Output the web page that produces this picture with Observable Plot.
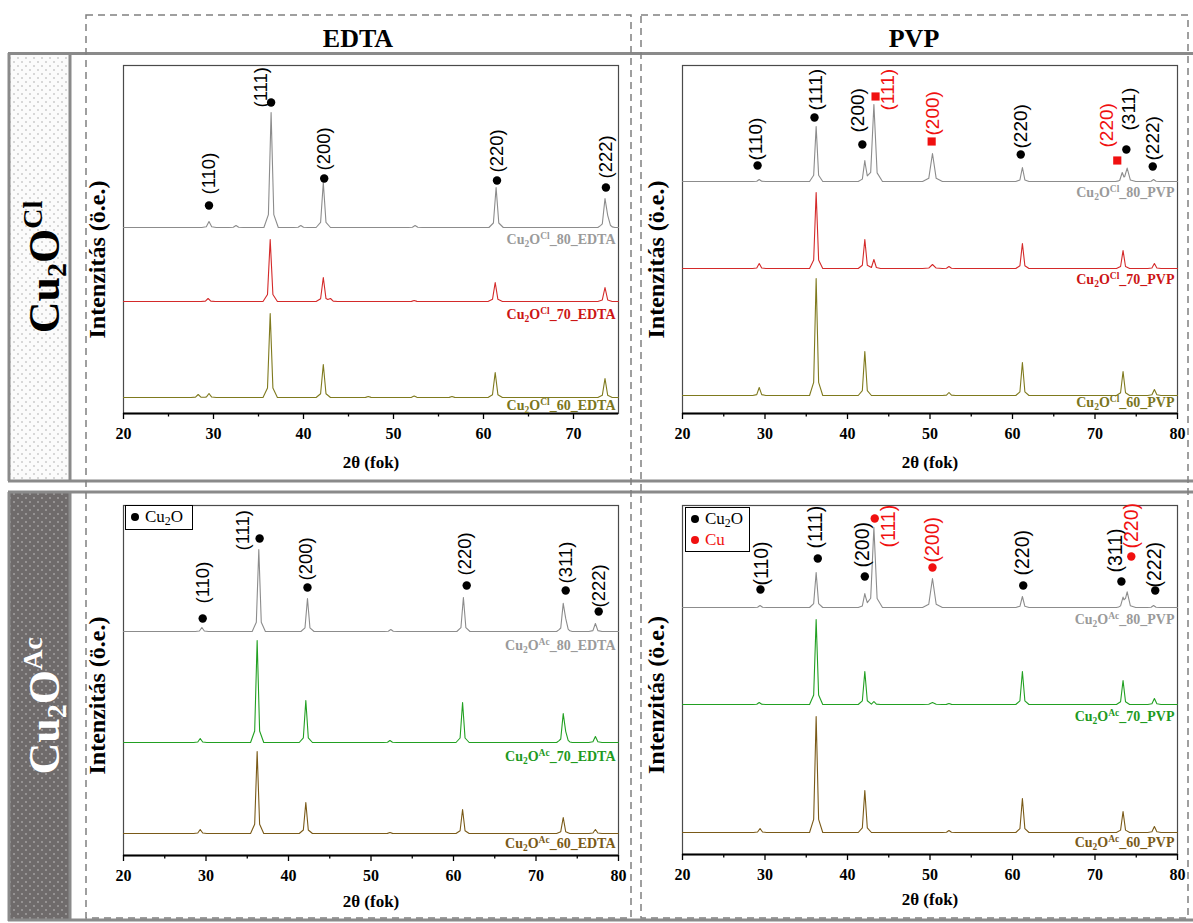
<!DOCTYPE html>
<html><head><meta charset="utf-8">
<script src="https://cdn.jsdelivr.net/npm/d3@7"></script>
<script src="https://cdn.jsdelivr.net/npm/@observablehq/plot@0.6"></script>
<style>
body{margin:0;background:#fff;}
#wrap{position:relative;width:1193px;height:923px;overflow:hidden;font-family:"Liberation Serif","Times New Roman",serif;}
.panel{position:absolute;}
.legend{position:absolute;box-sizing:border-box;border:1px solid #000;background:#fff;font:17px "Liberation Serif",serif;line-height:21px;padding:0 0 0 5px;white-space:nowrap;}
.legend sub{font-size:70%;vertical-align:-3px;line-height:0;}
.ld{display:inline-block;width:8px;height:8px;border-radius:50%;margin-right:6px;vertical-align:1px;}
</style></head><body><div id="wrap">
<svg id="deco" width="1193" height="923" style="position:absolute;left:0;top:0">
<defs>
<pattern id="dotsL" width="8" height="8" patternUnits="userSpaceOnUse"><rect width="8" height="8" fill="#fbfbfb"/><circle cx="2" cy="2" r="0.7" fill="#999"/><circle cx="6" cy="6" r="0.7" fill="#999"/></pattern>
<pattern id="dotsD" width="8" height="8" patternUnits="userSpaceOnUse"><rect width="8" height="8" fill="#6f6b6b"/><circle cx="2" cy="2" r="0.7" fill="#d8d8d8"/><circle cx="6" cy="6" r="0.7" fill="#d8d8d8"/></pattern>
</defs>
<rect x="9" y="54" width="61" height="427" fill="url(#dotsL)"/>
<rect x="9" y="492" width="61" height="428" fill="url(#dotsD)"/>
<g stroke="#8a8a8a" stroke-width="3" fill="none">
<line x1="8" x2="1193" y1="53.5" y2="53.5"/>
<line x1="8" x2="1193" y1="481" y2="481"/>
<line x1="8" x2="1193" y1="492" y2="492"/>
<line x1="8" x2="1193" y1="920" y2="920"/>
<line x1="9" x2="9" y1="53" y2="481"/>
<line x1="70" x2="70" y1="53" y2="481"/>
<line x1="9" x2="9" y1="492" y2="921"/>
<line x1="70" x2="70" y1="492" y2="921"/>
</g>
<g stroke="#808080" stroke-width="1.5" fill="none" stroke-dasharray="7 5">
<rect x="86" y="15" width="545" height="903"/>
<rect x="641" y="15" width="547" height="903"/>
</g>
<text x="358" y="47" text-anchor="middle" font-size="26" font-weight="bold">EDTA</text>
<text x="914" y="47" text-anchor="middle" font-size="26" font-weight="bold">PVP</text>
<text transform="translate(59,267) rotate(-90)" text-anchor="middle" font-size="44" font-weight="bold" fill="#000">Cu<tspan font-size="28" dy="7">2</tspan><tspan dy="-7">O</tspan><tspan font-size="28" dy="-17">Cl</tspan></text>
<text transform="translate(59,706) rotate(-90)" text-anchor="middle" font-size="44" font-weight="bold" fill="#fff">Cu<tspan font-size="28" dy="7">2</tspan><tspan dy="-7">O</tspan><tspan font-size="28" dy="-17">Ac</tspan></text>
</svg>
</div>
<script>
// ---------- data ----------
const xTicks = [20, 30, 40, 50, 60, 70, 80];
const xMinorTicks = [25, 35, 45, 55, 65, 75];
const xTitle = "2θ (fok)";
const yTitle = "Intenzitás (ö.e.)";

// Cu2O-Cl / EDTA  (baselines and [2θ, height, width factor])
const clEdtaNames = ["Cu2OCl_80_EDTA", "Cu2OCl_70_EDTA", "Cu2OCl_60_EDTA"];
const clEdtaBaselines = [186, 112, 16];
const clEdtaPeaks80 = [[29.5,6],[32.5,2],[36.4,115],[39.7,2],[42.2,45],[52.4,2],[61.4,40],[73.5,28],[73.8,9]];
const clEdtaPeaks70 = [[29.4,3],[36.3,62],[42.2,24],[43.0,3],[52.3,1],[61.3,19],[73.5,14]];
const clEdtaPeaks60 = [[28.3,3],[29.5,4],[36.3,84],[42.2,33],[47.2,1],[52.3,1.5],[56.5,1],[61.3,25],[73.5,19]];
// annotations: [dot 2θ, dot height, hkl, phase, label 2θ, label foot height]
const clEdtaAnnots = [
  [29.5,208,"(110)","Cu2O",29.5,219],[36.4,311,"(111)","Cu2O",35.3,306],[42.3,235,"(200)","Cu2O",42.3,243],
  [61.5,233,"(220)","Cu2O",61.5,241],[73.6,226,"(222)","Cu2O",73.6,235]];

// Cu2O-Cl / PVP
const clPvpNames = ["Cu2OCl_80_PVP", "Cu2OCl_70_PVP", "Cu2OCl_60_PVP"];
const clPvpBaselines = [232, 145, 18];
const clPvpPeaks80 = [[29.3,2],[36.2,55],[42.1,21],[43.2,77,1.3],[50.3,28,1.5],[61.2,14],[73.3,8],[73.9,13,1.3],[77.1,2]];
const clPvpPeaks70 = [[29.3,5],[36.2,76],[42.1,29],[43.2,9],[50.3,4,1.5],[52.3,2],[61.2,25],[73.4,18],[77.2,5]];
const clPvpPeaks60 = [[29.3,8],[36.2,117],[42.1,44],[52.3,3],[61.2,33],[73.4,24],[77.2,6]];
const clPvpAnnots = [
  [29.1,248,"(110)","Cu2O",28.85,253],[36.0,296,"(111)","Cu2O",36.2,303],[41.8,269,"(200)","Cu2O",41.3,281],
  [43.4,317,"(111)","Cu",44.85,303],[50.2,272,"(200)","Cu",50.3,278],[61.0,259,"(220)","Cu2O",61.0,265],
  [72.7,253,"(220)","Cu",71.5,266],[73.8,264,"(311)","Cu2O",74.05,283],[77.0,247,"(222)","Cu2O",77.0,253]];

// Cu2O-Ac / EDTA
const acEdtaNames = ["Cu2OAc_80_EDTA", "Cu2OAc_70_EDTA", "Cu2OAc_60_EDTA"];
const acEdtaBaselines = [224, 113, 22];
const acEdtaPeaks80 = [[29.5,4],[36.4,82],[42.3,33],[52.4,2],[61.2,34],[73.3,27],[73.6,10],[77.2,8]];
const acEdtaPeaks70 = [[29.3,4],[36.2,102],[42.1,42],[52.3,2],[61.1,40],[73.3,28],[73.6,8],[77.2,6]];
const acEdtaPeaks60 = [[29.3,4],[36.2,82],[42.1,31],[52.3,1],[61.1,24],[73.3,16],[77.2,4]];
const acEdtaAnnots = [
  [29.6,237,"(110)","Cu2O",29.6,252],[36.5,317,"(111)","Cu2O",34.5,305],[42.3,268,"(200)","Cu2O",42.1,275],
  [61.6,270,"(220)","Cu2O",61.4,280],[73.6,265,"(311)","Cu2O",73.6,272],[77.6,244,"(222)","Cu2O",77.6,248]];

// Cu2O-Ac / PVP
const acPvpNames = ["Cu2OAc_80_PVP", "Cu2OAc_70_PVP", "Cu2OAc_60_PVP"];
const acPvpBaselines = [247, 150, 22];
const acPvpPeaks80 = [[29.4,2],[36.2,35],[42.1,14],[43.2,80,1.3],[50.3,29,1.5],[61.2,11],[73.4,9],[73.9,15,1.3],[77.1,2]];
const acPvpPeaks70 = [[29.3,2],[36.2,85],[42.1,33],[43.2,3],[50.3,2,1.5],[52.3,1],[61.2,33],[73.4,24],[77.2,6]];
const acPvpPeaks60 = [[29.4,4],[36.2,116],[42.1,42],[52.3,2],[61.2,34],[73.4,21],[77.2,6]];
const acPvpAnnots = [
  [29.45,265,"(110)","Cu2O",29.6,269],[36.4,296,"(111)","Cu2O",36.1,306],[42.1,278,"(200)","Cu2O",41.8,287],
  [43.3,336,"(111)","Cu",45.0,307],[50.3,287,"(200)","Cu",50.3,292],[61.3,269,"(220)","Cu2O",61.2,279],
  [73.2,273,"(311)","Cu2O",72.5,282],[74.4,298,"(220)","Cu",74.5,306],[77.3,264,"(222)","Cu2O",77.3,267]];

// ---------- drawing ----------
const NS = "http://www.w3.org/2000/svg";
function curve(base, peaks, xmin, xmax) {
  const xs = new Set([xmin, xmax]);
  for (const [c, h, f = 1] of peaks) for (const d of [-0.8, -0.3, 0, 0.3, 0.8]) xs.add(+(c + d * f).toFixed(3));
  return [...xs].filter(x => x >= xmin && x <= xmax).sort((a, b) => a - b).map(x => ({
    x, y: base + d3.sum(peaks, ([c, h, f = 1]) =>
      h * (0.82 * Math.max(0, 1 - Math.abs(x - c) / (0.3 * f)) + 0.18 * Math.max(0, 1 - Math.abs(x - c) / (0.8 * f))))
  }));
}
function formatFormula(svg) {
  svg.querySelectorAll("text").forEach(t => {
    if (t.children.length) return;
    const m = t.textContent.match(/^Cu2O(Cl|Ac)(_.*)$/);
    if (!m) return;
    t.textContent = "";
    const add = (s, a = {}) => { const ts = document.createElementNS(NS, "tspan"); ts.textContent = s; for (const k in a) ts.setAttribute(k, a[k]); t.appendChild(ts); };
    add("Cu"); add("2", {"font-size": "9.5", dy: 3}); add("O", {dy: -3}); add(m[1], {"font-size": "9.5", dy: -5}); add(m[2], {dy: 5});
  });
}
function panel(cfg) {
  const {left, top, width, height, mt, mr, mb, ml, xMax, yMax, names, baselines, peaks, colors, labelColors, labelDy, annots, cuSymbol, fs, titleDy, yTitleDy} = cfg;
  const lines = peaks.map((p, i) => Plot.line(curve(baselines[i], p, 20, xMax), {x: "x", y: "y", stroke: colors[i], strokeWidth: 1.1}));
  const sampleLabels = names.map((n, i) => Plot.text([n], {x: xMax, y: baselines[i], fill: labelColors[i], textAnchor: "end", dx: -3, dy: labelDy[i], fontSize: 14}));
  const cu2o = annots.filter(a => a[3] === "Cu2O"), cu = annots.filter(a => a[3] === "Cu");
  const svg = Plot.plot({
    width, height, marginTop: mt, marginRight: mr, marginBottom: mb, marginLeft: ml,
    x: {domain: [20, xMax]},
    y: {domain: [0, yMax], axis: null},
    style: {background: "transparent", fontFamily: "'Liberation Serif', 'Times New Roman', serif", fontWeight: "bold", fontSize: "16px", color: "#000", overflow: "visible"},
    marks: [
      Plot.frame({stroke: "#4a4a4a", strokeWidth: 1.2}),
      ...lines,
      Plot.ruleY([0], {stroke: "#000", strokeWidth: 1.8}),
      Plot.axisX({ticks: xTicks.filter(t => t <= xMax), tickSize: 6, tickPadding: 8, label: null, strokeWidth: 1.3}),
      Plot.axisX({ticks: xMinorTicks.filter(t => t < xMax), tickSize: 3.5, tickFormat: () => "", label: null, strokeWidth: 1.3}),
      Plot.text([xTitle], {frameAnchor: "bottom", dy: titleDy, fontSize: 17}),
      Plot.text([yTitle], {frameAnchor: "left", textAnchor: "middle", rotate: -90, dx: -26, dy: yTitleDy, fontSize: 24}),
      Plot.dot(cu2o, {x: d => d[0], y: d => d[1], r: 4.2, fill: "#000", stroke: "none"}),
      Plot.dot(cu, {x: d => d[0], y: d => d[1], r: cuSymbol === "square" ? 4.6 : 4.2, symbol: cuSymbol, fill: "#f01010", stroke: "none"}),
      Plot.text(annots, {x: d => d[4], y: d => d[5], text: d => d[2], rotate: -90, textAnchor: "start",
        fill: d => d[3] === "Cu" ? "#f01010" : "#000", fontFamily: "'Liberation Sans', Arial, sans-serif", fontWeight: "normal", fontSize: fs}),
      ...sampleLabels
    ]
  });
  formatFormula(svg);
  const div = document.createElement("div");
  div.className = "panel";
  div.style.left = left + "px"; div.style.top = top + "px";
  div.appendChild(svg);
  document.getElementById("wrap").appendChild(div);
}
const grayRed = ["#8c8c8c", "#d42a2a", "#7f7a1e"], grayRedL = ["#9a9a9a", "#cc1515", "#7a7520"];
const grayGreen = ["#8c8c8c", "#22a022", "#7a5a18"], grayGreenL = ["#9a9a9a", "#1e9a1e", "#7a5a18"];
panel({left: 86, top: 55, width: 545, height: 425, mt: 10, mr: 13, mb: 67, ml: 37, xMax: 75, yMax: 348,
  names: clEdtaNames, baselines: clEdtaBaselines, peaks: [clEdtaPeaks80, clEdtaPeaks70, clEdtaPeaks60],
  colors: grayRed, labelColors: grayRedL, labelDy: [12, 13, 8], annots: clEdtaAnnots, cuSymbol: "square", fs: 18.5, titleDy: 54, yTitleDy: 20});
panel({left: 641, top: 55, width: 547, height: 425, mt: 10, mr: 11, mb: 67, ml: 41, xMax: 80, yMax: 348,
  names: clPvpNames, baselines: clPvpBaselines, peaks: [clPvpPeaks80, clPvpPeaks70, clPvpPeaks60],
  colors: grayRed, labelColors: grayRedL, labelDy: [11, 11, 7], annots: clPvpAnnots, cuSymbol: "square", fs: 19, titleDy: 54, yTitleDy: 20});
panel({left: 86, top: 495, width: 545, height: 423, mt: 10, mr: 13, mb: 63, ml: 37, xMax: 80, yMax: 350,
  names: acEdtaNames, baselines: acEdtaBaselines, peaks: [acEdtaPeaks80, acEdtaPeaks70, acEdtaPeaks60],
  colors: grayGreen, labelColors: grayGreenL, labelDy: [14, 14, 10], annots: acEdtaAnnots, cuSymbol: "circle", fs: 18.5, titleDy: 51, yTitleDy: 15});
panel({left: 641, top: 495, width: 547, height: 423, mt: 10, mr: 11, mb: 64, ml: 41, xMax: 80, yMax: 349,
  names: acPvpNames, baselines: acPvpBaselines, peaks: [acPvpPeaks80, acPvpPeaks70, acPvpPeaks60],
  colors: grayGreen, labelColors: grayGreenL, labelDy: [12, 12, 10], annots: acPvpAnnots, cuSymbol: "circle", fs: 19.5, titleDy: 50, yTitleDy: 15});

// legends
const wrap = document.getElementById("wrap");
function legend(x, y, w, h, items) {
  const d = document.createElement("div");
  d.className = "legend";
  Object.assign(d.style, {left: x + "px", top: y + "px", width: w + "px", height: h + "px"});
  d.innerHTML = items.map(([html, c]) => `<div style="color:${c}"><span class="ld" style="background:${c}"></span>${html}</div>`).join("");
  wrap.appendChild(d);
}
legend(125, 505, 68, 25, [["Cu<sub>2</sub>O", "#000"]]);
legend(685, 507, 65, 45, [["Cu<sub>2</sub>O", "#000"], ["Cu", "#f01010"]]);
</script>
</body></html>
